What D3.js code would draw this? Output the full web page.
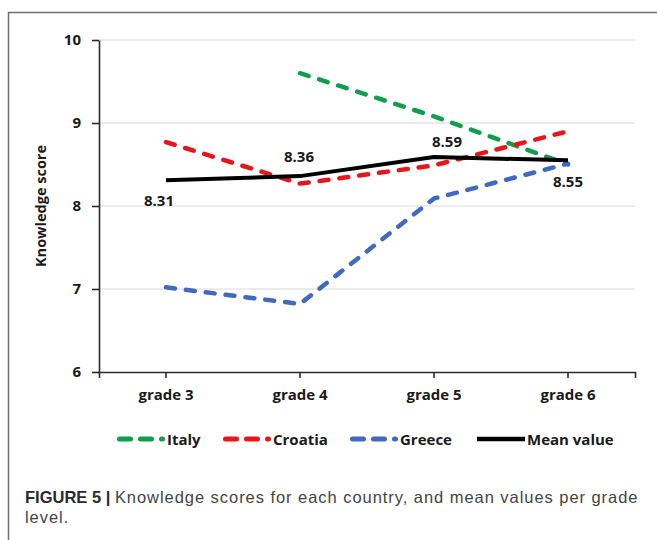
<!DOCTYPE html>
<html>
<head>
<meta charset="utf-8">
<script src="https://cdn.jsdelivr.net/npm/d3@7"></script>
<style>
  body { margin: 0; background: #fff; }
  svg { display: block; }
</style>
</head>
<body>
<div id="chart"></div>
<script>
// knowledge scores per grade level

// data
let grades = ["grade 3", "grade 4", "grade 5", "grade 6"];
let italy = [null, 9.60, 9.08, 8.50];
let croatia = [8.77, 8.27, 8.49, 8.90];
let greece = [7.02, 6.82, 8.09, 8.51];
let meanValue = [8.31, 8.36, 8.59, 8.55];
let yTicks = [6, 7, 8, 9, 10];
let seriesNames = ["Italy", "Croatia", "Greece", "Mean value"];

// colors
let colors = {
  "Italy": "#0e9e4c",
  "Croatia": "#e8151b",
  "Greece": "#3f6ac0",
  "Mean value": "#000000"
};

let W = 657, H = 540;
let labelFont = "'Open Sans', 'DejaVu Sans', sans-serif";

let svg = d3.select("#chart").append("svg")
  .attr("width", W)
  .attr("height", H);

// figure frame
svg.append("rect")
  .attr("x", 8.5)
  .attr("y", 12.5)
  .attr("width", 700)
  .attr("height", 600)
  .attr("fill", "none")
  .attr("stroke", "#707070")
  .attr("stroke-width", 1.5);

// scales
let x = d3.scaleBand().domain(grades).range([99, 635]).padding(0);
let xc = function(g) { return x(g) + x.bandwidth() / 2; };
let y = d3.scaleLinear().domain([6, 10]).range([372, 40]);

// gridlines
svg.append("g")
  .selectAll("line")
  .data(yTicks.slice(1))
  .enter()
  .append("line")
  .attr("x1", 99)
  .attr("x2", 635)
  .attr("y1", function(d) { return y(d); })
  .attr("y2", function(d) { return y(d); })
  .attr("stroke", "#d9d9d9")
  .attr("stroke-width", 1.2);

// y axis
let yAxis = svg.append("g")
  .attr("transform", "translate(99,0)")
  .call(d3.axisLeft(y).tickValues(yTicks).tickFormat(d3.format("d"))
    .tickSize(7).tickSizeOuter(0).tickPadding(11));

// x axis
let xAxis = svg.append("g")
  .attr("transform", "translate(0,372)")
  .call(d3.axisBottom(x).tickSize(6).tickSizeOuter(6).tickPadding(11));

[yAxis, xAxis].forEach(function(ax) {
  ax.selectAll("path, line").attr("stroke", "#2b2b2b").attr("stroke-width", 1.6);
  ax.selectAll("text")
    .attr("fill", "#1a1a1a")
    .style("font-family", labelFont)
    .style("font-weight", 700)
    .style("font-size", "15px");
});

// y axis title
svg.append("text")
  .attr("transform", "translate(46," + y(8) + ") rotate(-90)")
  .attr("text-anchor", "middle")
  .style("font-family", labelFont)
  .style("font-weight", 700)
  .style("font-size", "14.5px")
  .attr("fill", "#1a1a1a")
  .text("Knowledge score");

// lines
let allSeries = [
  {name: "Italy", values: italy, dash: "9,11"},
  {name: "Croatia", values: croatia, dash: "9,11"},
  {name: "Greece", values: greece, dash: "9,11"},
  {name: "Mean value", values: meanValue, dash: null}
];

let line = d3.line()
  .defined(function(d) { return d.v != null; })
  .x(function(d) { return xc(d.g); })
  .y(function(d) { return y(d.v); });

svg.append("g")
  .selectAll("path")
  .data(allSeries)
  .enter()
  .append("path")
  .attr("d", function(s) {
    return line(s.values.map(function(v, i) { return {g: grades[i], v: v}; }));
  })
  .attr("fill", "none")
  .attr("stroke", function(s) { return colors[s.name]; })
  .attr("stroke-width", function(s) { return s.dash ? 4.5 : 4; })
  .attr("stroke-dasharray", function(s) { return s.dash; })
  .attr("stroke-linecap", function(s) { return s.dash ? "round" : "butt"; })
  .attr("stroke-linejoin", "round");

// mean value labels
let labelOffsets = [[-7, 26], [-1, -14], [13, -10], [0, 27]];
svg.append("g")
  .selectAll("text")
  .data(meanValue)
  .enter()
  .append("text")
  .attr("x", function(d, i) { return xc(grades[i]) + labelOffsets[i][0]; })
  .attr("y", function(d, i) { return y(d) + labelOffsets[i][1]; })
  .attr("text-anchor", "middle")
  .style("font-family", labelFont)
  .style("font-weight", 700)
  .style("font-size", "15px")
  .attr("fill", "#1a1a1a")
  .text(function(d) { return d3.format(".2f")(d); });

// legend
let legendX = [119.5, 225.5, 352.5, 477];
let legend = svg.append("g")
  .selectAll("g")
  .data(allSeries)
  .enter()
  .append("g")
  .attr("transform", function(d, i) { return "translate(" + legendX[i] + ",439)"; });

legend.append("line")
  .attr("x1", 0)
  .attr("x2", function(d) { return d.dash ? 43 : 48; })
  .attr("y1", 0)
  .attr("y2", 0)
  .attr("stroke", function(d) { return colors[d.name]; })
  .attr("stroke-width", function(d) { return d.dash ? 5 : 4.5; })
  .attr("stroke-dasharray", function(d) { return d.dash ? "11,10" : null; })
  .attr("stroke-linecap", function(d) { return d.dash ? "round" : "butt"; });

legend.append("text")
  .attr("x", function(d) { return d.dash ? 47.5 : 50; })
  .attr("y", 5.5)
  .style("font-family", labelFont)
  .style("font-weight", 700)
  .style("font-size", "15px")
  .attr("fill", "#1a1a1a")
  .text(function(d) { return d.name; });

// caption
let caption = svg.append("text")
  .attr("x", 25)
  .attr("y", 503)
  .style("font-family", "'Liberation Sans', Arial, sans-serif")
  .style("font-size", "16.5px")
  .attr("fill", "#444");
caption.append("tspan").style("font-weight", 700).attr("fill", "#2a2a2a").text("FIGURE 5 | ");
caption.append("tspan")
  .style("letter-spacing", "0.95px")
  .text("Knowledge scores for each country, and mean values per grade");

svg.append("text")
  .attr("x", 25)
  .attr("y", 523)
  .style("font-family", "'Liberation Sans', Arial, sans-serif")
  .style("font-size", "16.5px")
  .style("letter-spacing", "0.95px")
  .attr("fill", "#444")
  .text("level.");
</script>
</body>
</html>
